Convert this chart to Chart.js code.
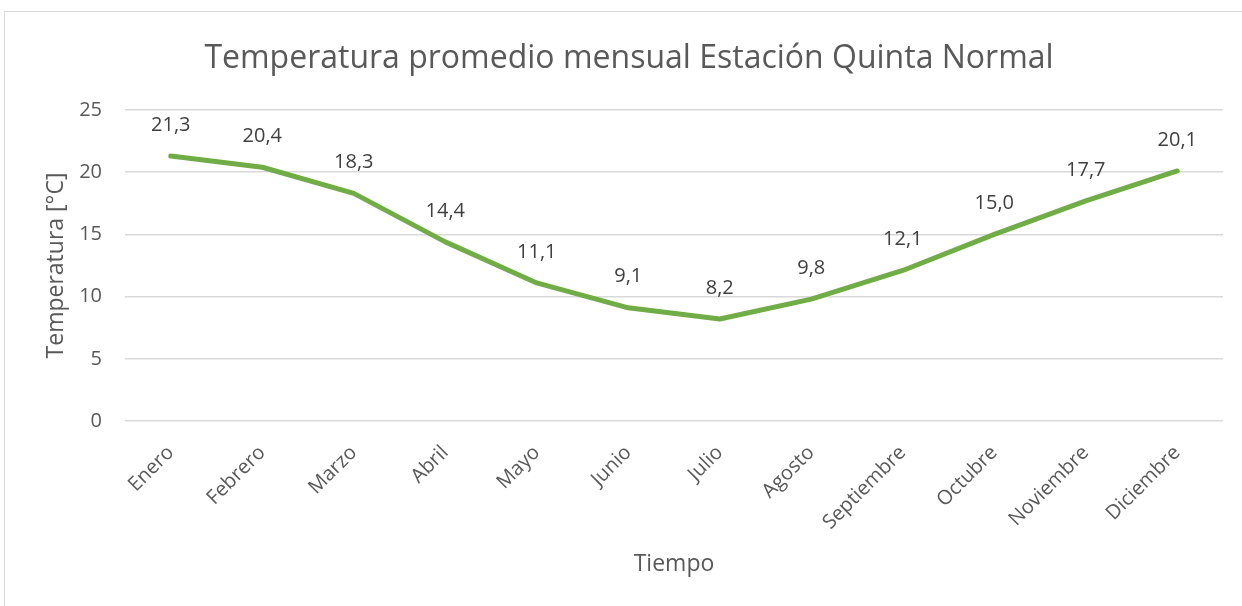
<!DOCTYPE html>
<html>
<head>
<meta charset="utf-8">
<script src="https://cdn.jsdelivr.net/npm/chart.js@4"></script>
<style>
  html, body { margin: 0; padding: 0; background: #fff; overflow: hidden; }
  #wrap { position: relative; width: 1242px; height: 606px; }
  #frame { position: absolute; left: 4px; top: 11px; width: 1300px; height: 700px; border: 1.5px solid #d9d9d9; box-sizing: border-box; }
  canvas { position: absolute; left: 0; top: 0; }
</style>
</head>
<body>
<div id="wrap">
  <div id="frame"></div>
  <canvas id="c" width="1242" height="606"></canvas>
</div>
<script>
const categories = ["Enero","Febrero","Marzo","Abril","Mayo","Junio","Julio","Agosto","Septiembre","Octubre","Noviembre","Diciembre"];
const temperatures = [21.3, 20.4, 18.3, 14.4, 11.1, 9.1, 8.2, 9.8, 12.1, 15.0, 17.7, 20.1];
const yTicks = [0, 5, 10, 15, 20, 25];
const chartTitle = "Temperatura promedio mensual Estación Quinta Normal";
const xTitle = "Tiempo";
const yTitle = "Temperatura [°C]";

const FONT = "'Open Sans', 'DejaVu Sans', sans-serif";

const dataLabels = {
  id: 'dataLabels',
  afterDatasetsDraw(chart) {
    const ctx = chart.ctx;
    const meta = chart.getDatasetMeta(0);
    ctx.save();
    ctx.font = "20px " + FONT;
    ctx.fillStyle = "#404040";
    ctx.textAlign = "center";
    ctx.textBaseline = "middle";
    meta.data.forEach((pt, i) => {
      const v = chart.data.datasets[0].data[i];
      ctx.fillText(v.toFixed(1).replace('.', ','), pt.x, pt.y - 31);
    });
    ctx.restore();
  }
};

new Chart(document.getElementById('c'), {
  type: 'line',
  data: {
    labels: categories,
    datasets: [{
      data: temperatures,
      borderColor: '#70AD47',
      borderWidth: 5,
      borderCapStyle: 'round',
      borderJoinStyle: 'round',
      pointRadius: 0,
      pointHoverRadius: 0,
      tension: 0,
      fill: false
    }]
  },
  options: {
    responsive: false,
    animation: false,
    events: [],
    layout: { padding: { left: 35, right: 19, top: 0, bottom: 0 } },
    plugins: {
      legend: { display: false },
      tooltip: { enabled: false },
      title: {
        display: true,
        text: chartTitle,
        color: '#595959',
        font: { family: FONT, size: 32, weight: 'normal', lineHeight: 1.2 },
        padding: { top: 40, bottom: 31.6 }
      }
    },
    scales: {
      x: {
        offset: true,
        grid: { display: false, drawTicks: false },
        border: { display: false },
        ticks: {
          color: '#595959',
          font: { family: FONT, size: 20 },
          minRotation: 45,
          maxRotation: 45,
          autoSkip: false,
          padding: 20
        },
        title: {
          display: true,
          text: xTitle,
          color: '#595959',
          font: { family: FONT, size: 23, lineHeight: 1.2 },
          padding: { top: 0, bottom: 28 }
        },
        afterFit(scale) { scale.height = 185; }
      },
      y: {
        min: 0,
        max: 25,
        afterBuildTicks(scale) { scale.ticks = yTicks.map(v => ({ value: v })); },
        grid: { color: '#d9d9d9', lineWidth: 1.5, drawTicks: false },
        border: { display: false },
        ticks: {
          color: '#595959',
          font: { family: FONT, size: 20 },
          padding: 23
        },
        title: {
          display: true,
          text: yTitle,
          color: '#595959',
          font: { family: FONT, size: 23, lineHeight: 1.2 },
          padding: { top: 8, bottom: 0 }
        },
        afterFit(scale) { scale.width = 90; }
      }
    }
  },
  plugins: [dataLabels]
});
</script>
</body>
</html>
